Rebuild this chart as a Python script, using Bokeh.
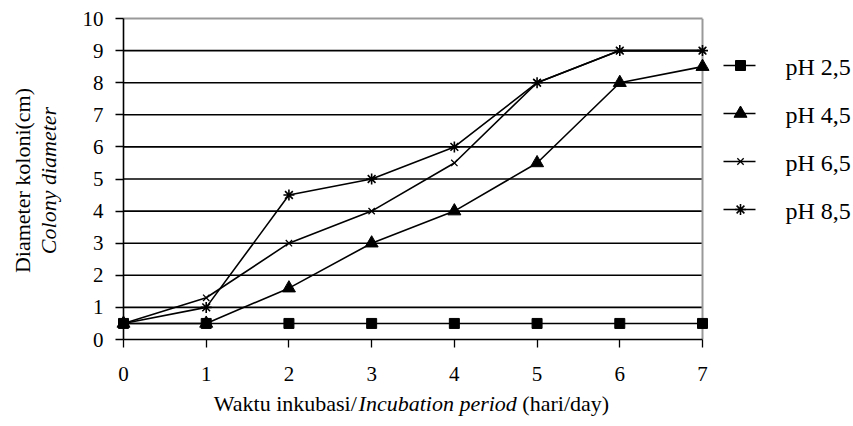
from bokeh.plotting import figure
from bokeh.models import Range1d, FixedTicker, Grid
from bokeh.core.properties import value
from bokeh.embed import file_html
from bokeh.resources import INLINE
import math

days = [0, 1, 2, 3, 4, 5, 6, 7]
ph25 = [0.5, 0.5, 0.5, 0.5, 0.5, 0.5, 0.5, 0.5]
ph45 = [0.5, 0.5, 1.6, 3.0, 4.0, 5.5, 8.0, 8.5]
ph65 = [0.5, 1.3, 3.0, 4.0, 5.5, 8.0, 9.0, 9.0]
ph85 = [0.5, 1.0, 4.5, 5.0, 6.0, 8.0, 9.0, 9.0]
series_names = ["pH 2,5", "pH 4,5", "pH 6,5", "pH 8,5"]
y_ticks = list(range(0, 11))
x_ticks = days
x_title = ["Waktu inkubasi/", "Incubation period", "(hari/day)"]
y_title1 = "Diameter  koloni(cm)"
y_title2 = "Colony diameter"

FONT = "Liberation Serif"
TICK_FS = "21px"
TITLE_PX = 22.0
LEG_PX = 24.0
W, H = 852, 424
FL, FR, FT, FB = 123, 702, 18, 339  # plot-area edges in page px
XMAX, YMAX = x_ticks[-1], y_ticks[-1]
xsc = (FR - FL) / XMAX
ysc = (FB - FT) / YMAX

p = figure(width=W, height=H, output_backend="svg", toolbar_location=None,
           x_range=Range1d(0, (W - FL) / xsc), y_range=Range1d(0, YMAX),
           min_border_left=FL, min_border_right=0, min_border_top=FT,
           min_border_bottom=H - FB)
p.background_fill_color = "white"
p.border_fill_color = "white"
p.outline_line_color = None
p.xgrid.visible = False
p.ygrid.visible = False

# horizontal grid lines, limited to the plot area (0..7)
grid_y = y_ticks[1:-1]
p.segment(x0=[0] * len(grid_y), y0=grid_y, x1=[XMAX] * len(grid_y), y1=grid_y,
          line_color="black", line_width=1.6, level="underlay")
# grey border of the plot area (top and right)
p.segment(x0=[0], y0=[YMAX], x1=[XMAX], y1=[YMAX], line_color="#999999",
          line_width=2, level="guide")
p.add_layout(Grid(dimension=0, ticker=FixedTicker(ticks=[XMAX]), bounds=(0, YMAX),
                  grid_line_color="#999999", grid_line_width=2))

for ax in (p.xaxis[0], p.yaxis[0]):
    ax.axis_line_color = "black"
    ax.axis_line_width = 1.6
    ax.major_tick_line_color = "black"
    ax.major_tick_line_width = 1.3
    ax.major_tick_out = 8
    ax.major_tick_in = 0
    ax.minor_tick_line_color = None
    ax.major_label_text_font = FONT
    ax.major_label_text_font_size = TICK_FS
    ax.major_label_text_color = "black"
p.xaxis.ticker = FixedTicker(ticks=x_ticks)
p.xaxis.bounds = (0, XMAX)
p.yaxis.ticker = FixedTicker(ticks=y_ticks)
p.xaxis.major_label_standoff = 19
p.yaxis.major_label_standoff = 12

def dx(px):
    return (px - FL) / xsc
def dy(py):
    return (FB - py) / ysc

styles = [
    dict(marker="square", size=10, line_width=1),
    dict(marker="triangle", size=13, line_width=1),
    dict(marker="x", size=9, line_width=1.3),
    dict(marker="asterisk", size=11, line_width=1.6),
]
def txt(px):
    return dict(text_font=value(FONT), text_font_size=value(f"{px}px"), text_align="left",
                text_color="black", level="overlay")

for i, (name, ys, st) in enumerate(zip(series_names, [ph25, ph45, ph65, ph85], styles)):
    p.line(days, ys, line_color="black", line_width=1.6, level="overlay")
    p.scatter(days, ys, marker=st["marker"], size=st["size"], level="overlay",
              fill_color="black", line_color="black", line_width=st["line_width"])
    # legend key
    ry = 65 + i * 48
    p.line([dx(723), dx(755)], [dy(ry), dy(ry)], line_color="black", line_width=1.6,
           level="overlay")
    p.scatter([dx(740)], [dy(ry)], marker=st["marker"], size=st["size"], level="overlay",
              fill_color="black", line_color="black", line_width=st["line_width"])
    p.text(x=[dx(785)], y=[dy(ry + 1)], text=[name], text_baseline="middle",
           **txt(LEG_PX))

# x title with italic part (Times metrics, 1/1000 em)
def w(units, px):
    return units / 1000.0 * px

w1, w2, wsp, w3 = w(6583, TITLE_PX), w(7194, TITLE_PX), w(250, TITLE_PX), w(3949, TITLE_PX)
total = w1 + w2 + wsp + w3
start_px = 411 - total / 2
ymid = dy(403)
p.text(x=[dx(start_px), dx(start_px + w1 + w2 + wsp)], y=[ymid, ymid],
       text=[x_title[0], x_title[2]], text_baseline="middle", **txt(TITLE_PX))
p.text(x=[dx(start_px + w1)], y=[ymid], text=[x_title[1]], text_baseline="middle",
       text_font_style="italic", **txt(TITLE_PX))

# y titles (rotated)
cy = 180
wl1 = w(8415, TITLE_PX)
p.text(x=[dx(22)], y=[dy(cy + wl1 / 2)], text=[y_title1], angle=math.pi / 2,
       text_baseline="middle", **txt(TITLE_PX))
wl2 = w(6694, TITLE_PX)
p.text(x=[dx(48)], y=[dy(cy + wl2 / 2)], text=[y_title2], angle=math.pi / 2,
       text_baseline="middle", text_font_style="italic", **txt(TITLE_PX))

open("out.html", "w").write(file_html(p, INLINE))
